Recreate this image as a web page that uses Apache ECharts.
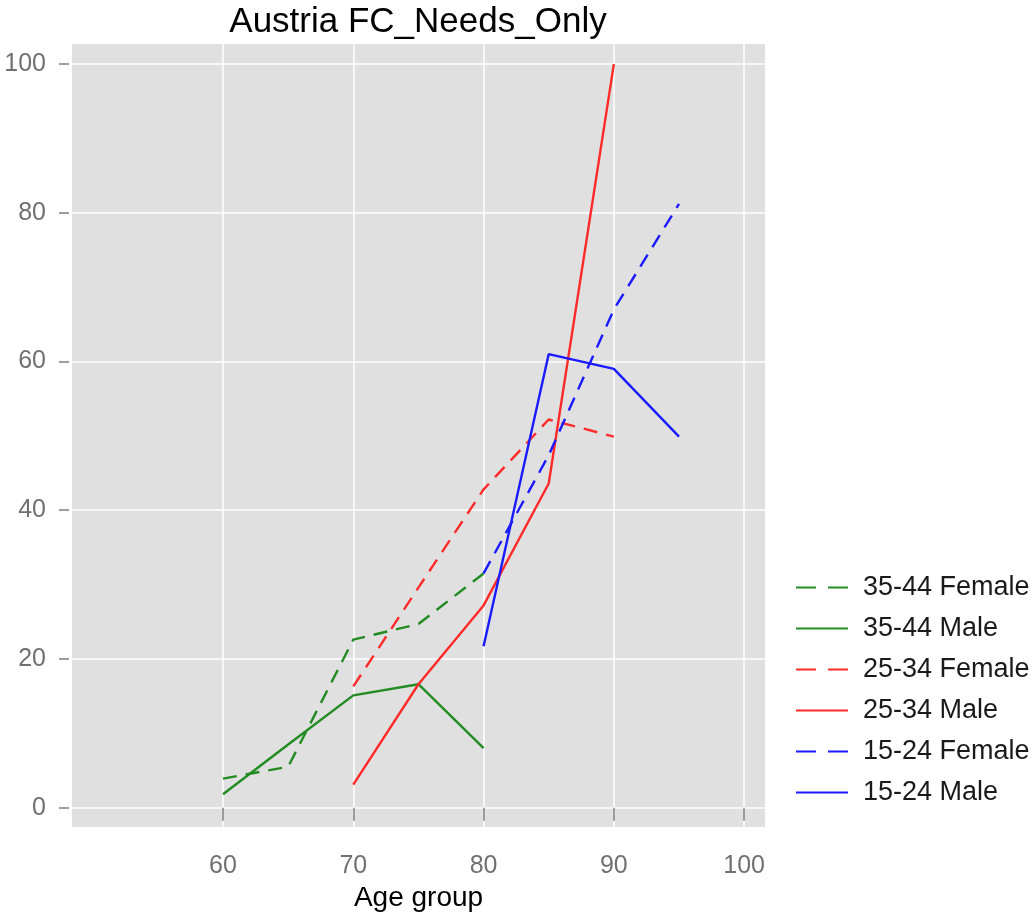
<!DOCTYPE html>
<html>
<head>
<meta charset="utf-8">
<script src="https://cdn.jsdelivr.net/npm/echarts@6/dist/echarts.min.js"></script>
<style>
body { margin: 0; background: #fff; }
#chart { width: 1032px; height: 913px; }
</style>
</head>
<body>
<div id="chart"></div>
<script>
// values
const ages3544 = [60, 65, 70, 75, 80];
const female3544 = [3.9, 5.5, 22.6, 24.7, 31.5];
const male3544 = [1.8, 8.5, 15.1, 16.6, 8.0];

const ages2534 = [70, 75, 80, 85, 90];
const female2534 = [16.3, 29.6, 42.8, 52.2, 49.9];
const male2534 = [3.1, 16.6, 27.2, 43.6, 100];

const ages1524 = [80, 85, 90, 95];
const female1524 = [31.5, 47.4, 67.0, 81.2];
const male1524 = [21.7, 61.0, 59.0, 49.9];

const xTicks = [60, 70, 80, 90, 100];
const yTicks = [0, 20, 40, 60, 80, 100];

const legendNames = ['35-44 Female', '35-44 Male', '25-34 Female', '25-34 Male', '15-24 Female', '15-24 Male'];

function pairs(xs, ys) {
    return xs.map((x, i) => [x, ys[i]]);
}

function makeLine(name, xs, ys, color, dashed) {
    return {
        type: 'line',
        name: name,
        data: pairs(xs, ys),
        symbol: 'none',
        silent: true,
        lineStyle: {
            color: color,
            width: 2.4,
            type: dashed ? [14, 9] : 'solid'
        },
        itemStyle: { color: color }
    };
}

// legend keys: dashed ones show two dashes like the original
let legendData = legendNames.map(n => {
    if (n.indexOf('Female') > -1) {
        return { name: n, lineStyle: { type: [20, 12] } };
    }
    return { name: n };
});

let chart = echarts.init(document.getElementById('chart'));
chart.setOption({
    animation: false,
    backgroundColor: '#ffffff',
    title: {
        text: 'Austria FC_Needs_Only',
        left: 413,
        textAlign: 'center',
        top: 0,
        textStyle: {
            fontFamily: 'Liberation Sans',
            fontSize: 35,
            fontWeight: 'normal',
            color: '#000'
        }
    },
    legend: {
        orient: 'vertical',
        left: 790,
        top: 569,
        data: legendData,
        itemWidth: 52,
        itemHeight: 14,
        itemGap: 14,
        selectedMode: false,
        itemStyle: { opacity: 0 },
        textStyle: {
            fontFamily: 'Liberation Sans',
            fontSize: 27,
            color: '#1a1a1a',
            padding: [0, 0, 0, 10]
        }
    },
    grid: {
        left: 72,
        right: 267,
        top: 44,
        bottom: 86,
        outerBoundsMode: 'none',
        show: true,
        backgroundColor: '#e0e0e0',
        borderWidth: 0
    },
    xAxis: {
        type: 'value',
        min: 48.41,
        max: 101.6,
        offset: 2,
        name: 'Age group',
        nameLocation: 'middle',
        nameGap: 42,
        nameTextStyle: {
            fontFamily: 'Liberation Sans',
            fontSize: 28,
            color: '#000'
        },
        axisLine: { show: false },
        axisTick: {
            show: true,
            length: 13,
            customValues: xTicks,
            lineStyle: { color: '#7f7f7f', width: 1.5 }
        },
        axisLabel: {
            customValues: xTicks,
            margin: 25,
            fontFamily: 'Liberation Sans',
            fontSize: 25,
            color: '#707070'
        },
        splitLine: {
            show: true,
            lineStyle: { color: '#ffffff', width: 1.5 }
        }
    },
    yAxis: {
        type: 'value',
        min: -2.6,
        max: 102.7,
        offset: 3,
        axisLine: { show: false },
        axisTick: {
            show: true,
            length: 10,
            customValues: yTicks,
            lineStyle: { color: '#7f7f7f', width: 1.5 }
        },
        axisLabel: {
            customValues: yTicks,
            margin: 23,
            fontFamily: 'Liberation Sans',
            fontSize: 25,
            color: '#707070'
        },
        splitLine: {
            show: true,
            lineStyle: { color: '#ffffff', width: 1.5 }
        }
    },
    series: [
        makeLine('35-44 Female', ages3544, female3544, '#228B22', true),
        makeLine('35-44 Male', ages3544, male3544, '#228B22', false),
        makeLine('25-34 Female', ages2534, female2534, '#ff2a2a', true),
        makeLine('25-34 Male', ages2534, male2534, '#ff2a2a', false),
        makeLine('15-24 Female', ages1524, female1524, '#1a1aff', true),
        makeLine('15-24 Male', ages1524, male1524, '#1a1aff', false)
    ]
});
</script>
</body>
</html>
